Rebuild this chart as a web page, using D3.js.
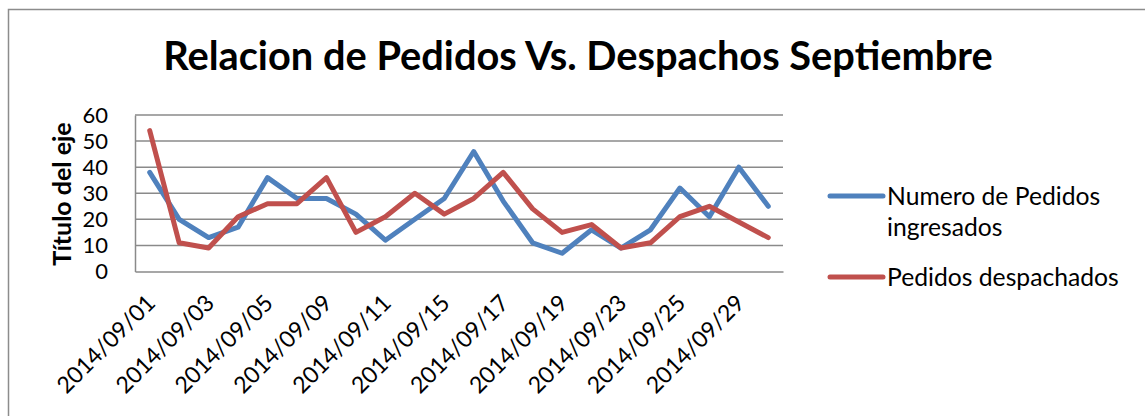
<!DOCTYPE html>
<html>
<head>
<meta charset="utf-8">
<script src="https://cdn.jsdelivr.net/npm/d3@7"></script>
<style>
  body { margin: 0; background: #fff; }
  svg text { font-family: Lato, "Open Sans", sans-serif; fill: #000; }
</style>
</head>
<body>
<svg id="chart"></svg>
<script>
// data
const fechas = ["2014/09/01", "2014/09/02", "2014/09/03", "2014/09/04", "2014/09/05",
  "2014/09/08", "2014/09/09", "2014/09/10", "2014/09/11", "2014/09/12",
  "2014/09/15", "2014/09/16", "2014/09/17", "2014/09/18", "2014/09/19",
  "2014/09/22", "2014/09/23", "2014/09/24", "2014/09/25", "2014/09/26",
  "2014/09/29", "2014/09/30"];
const pedidosIngresados = [38, 20, 13, 17, 36, 28, 28, 22, 12, 20, 28, 46, 27, 11, 7, 16, 9, 16, 32, 21, 40, 25];
const pedidosDespachados = [54, 11, 9, 21, 26, 26, 36, 15, 21, 30, 22, 28, 38, 24, 15, 18, 9, 11, 21, 25, 19, 13];
const yTicks = [0, 10, 20, 30, 40, 50, 60];

const series = [
  { name: ["Numero de Pedidos", "ingresados"], values: pedidosIngresados, color: "#4F81BD" },
  { name: ["Pedidos despachados"], values: pedidosDespachados, color: "#C0504D" }
];

const width = 1145, height = 416;
const plot = { left: 135, right: 783, top: 115, bottom: 271.5 };

const svg = d3.select("#chart").attr("width", width).attr("height", height);

// outer chart border (right / bottom edges fall outside the picture)
svg.append("rect")
  .attr("x", 8.5).attr("y", 9.5)
  .attr("width", width + 20).attr("height", height + 20)
  .attr("fill", "none").attr("stroke", "#8c8c8c").attr("stroke-width", 1.5);

const x = d3.scaleBand().domain(fechas).range([plot.left, plot.right]);
const cx = d => x(d) + x.bandwidth() / 2;
const y = d3.scaleLinear().domain([0, 60]).range([plot.bottom, plot.top]);

// scale a text's font size so it spans a given width
function fitText(sel, target) {
  const w = sel.node().getComputedTextLength();
  const fs = parseFloat(sel.attr("font-size"));
  sel.attr("font-size", fs * target / w);
}

// title
const title = svg.append("text")
  .attr("x", 578).attr("y", 70)
  .attr("text-anchor", "middle")
  .attr("font-weight", "bold").attr("font-size", 36)
  .text("Relacion de Pedidos Vs. Despachos Septiembre");
fitText(title, 830);

// gridlines
svg.append("g")
  .selectAll("line")
  .data(yTicks.filter(t => t > 0))
  .join("line")
  .attr("x1", plot.left).attr("x2", plot.right)
  .attr("y1", d => y(d)).attr("y2", d => y(d))
  .attr("stroke", "#8a8a8a").attr("stroke-width", 1.5);

// y axis
const yAxis = svg.append("g")
  .attr("transform", `translate(${plot.left},0)`)
  .call(d3.axisLeft(y).tickValues(yTicks).tickSize(0).tickPadding(27));
yAxis.select(".domain").attr("stroke", "#8a8a8a").attr("stroke-width", 1.5);
yAxis.selectAll("text").attr("font-size", 22).attr("font-family", "Lato");

// x axis, every other date labelled
const xAxis = svg.append("g")
  .attr("transform", `translate(0,${plot.bottom})`)
  .call(d3.axisBottom(x).tickValues(fechas.filter((d, i) => i % 2 === 0)).tickSize(0));
xAxis.select(".domain").attr("stroke", "#8a8a8a").attr("stroke-width", 1.5);
xAxis.selectAll("text")
  .attr("font-size", 23).attr("font-family", "Lato")
  .attr("text-anchor", "end")
  .attr("dy", 0)
  .attr("transform", "translate(7,33) rotate(-45)")
  .attr("y", 0).attr("x", 0);

// axis title
svg.append("text")
  .attr("transform", `translate(71,194) rotate(-90)`)
  .attr("text-anchor", "middle")
  .attr("font-weight", "bold").attr("font-size", 25)
  .text("Título del eje");

// lines
const line = d3.line()
  .x((d, i) => cx(fechas[i]))
  .y(d => y(d));

svg.append("g")
  .selectAll("path")
  .data(series)
  .join("path")
  .attr("d", d => line(d.values))
  .attr("fill", "none")
  .attr("stroke", d => d.color)
  .attr("stroke-width", 5)
  .attr("stroke-linejoin", "round")
  .attr("stroke-linecap", "round");

// legend
const legendY = [196, 277];
const legend = svg.append("g")
  .selectAll("g")
  .data(series)
  .join("g")
  .attr("transform", (d, i) => `translate(830,${legendY[i]})`);

legend.append("line")
  .attr("x1", 0).attr("x2", 53)
  .attr("stroke", d => d.color)
  .attr("stroke-width", 5)
  .attr("stroke-linecap", "round");

const legendText = legend.append("text")
  .attr("x", 57).attr("y", 9)
  .attr("font-size", 24.7);
legendText.selectAll("tspan")
  .data(d => d.name)
  .join("tspan")
  .attr("x", 57)
  .attr("dy", (d, i) => i === 0 ? 0 : 31)
  .text(d => d);
</script>
</body>
</html>
